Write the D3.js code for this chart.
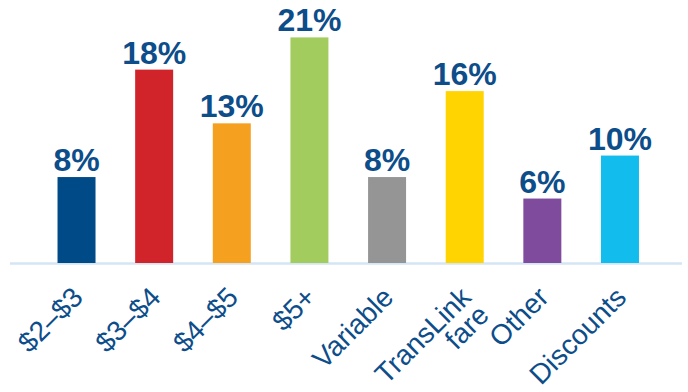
<!DOCTYPE html>
<html>
<head>
<meta charset="utf-8">
<script src="https://cdn.jsdelivr.net/npm/d3@7"></script>
<style>
  html, body { margin: 0; padding: 0; background: #fff; }
  svg { display: block; }
</style>
</head>
<body>
<svg id="chart" width="688" height="392"></svg>
<script>
// Fare categories (multi-line labels split on "\n")
const categories = ["$2\u2013$3", "$3\u2013$4", "$4\u2013$5", "$5+", "Variable", "TransLink\nfare", "Other", "Discounts"];
const values = [8, 18, 13, 21, 8, 16, 6, 10];
const colors = ["#004A88", "#D1232A", "#F6A020", "#A2CD5E", "#959595", "#FFD400", "#7F4C9D", "#12BDEE"];

const textColor = "#0C4D8A";
const svg = d3.select("#chart");

const baseline = 263;
const x = d3.scaleBand()
  .domain(categories)
  .range([18.7, 677.8])
  .paddingInner(0.5106)
  .paddingOuter(0.5);

const y = d3.scaleLinear()
  .domain([0, 21])
  .range([baseline, baseline - 225.6]);

// baseline axis
svg.append("line")
  .attr("x1", 10).attr("x2", 682)
  .attr("y1", baseline + 0.5).attr("y2", baseline + 0.5)
  .attr("stroke", "#D4E6F4")
  .attr("stroke-width", 2.5);

// bars
svg.selectAll("rect.bar")
  .data(categories)
  .join("rect")
  .attr("class", "bar")
  .attr("x", d => x(d))
  .attr("width", x.bandwidth())
  .attr("y", (d, i) => y(values[i]))
  .attr("height", (d, i) => baseline - y(values[i]))
  .attr("fill", (d, i) => colors[i]);

// value labels
svg.selectAll("text.val")
  .data(categories)
  .join("text")
  .attr("class", "val")
  .attr("x", d => x(d) + x.bandwidth() / 2)
  .attr("y", (d, i) => y(values[i]) - 6)
  .attr("text-anchor", "middle")
  .attr("font-family", "Liberation Sans, Arial, sans-serif")
  .attr("font-weight", "bold")
  .attr("font-size", 32)
  .attr("fill", textColor)
  .text((d, i) => values[i] + "%");

// rotated category labels
const catG = svg.selectAll("g.cat")
  .data(categories)
  .join("g")
  .attr("class", "cat")
  .attr("transform", d => `translate(${x(d) + x.bandwidth() / 2 + 8},${baseline + 36}) rotate(-45)`);

catG.each(function(d) {
  const lines = d.split("\n");
  const t = d3.select(this).append("text")
    .attr("text-anchor", "end")
    .attr("font-family", "Liberation Sans, Arial, sans-serif")
    .attr("font-size", 28)
    .attr("fill", textColor);
  lines.forEach((ln, j) => {
    t.append("tspan")
      .attr("x", 0)
      .attr("dy", j === 0 ? 0 : "0.9em")
      .text(ln);
  });
});
</script>
</body>
</html>
